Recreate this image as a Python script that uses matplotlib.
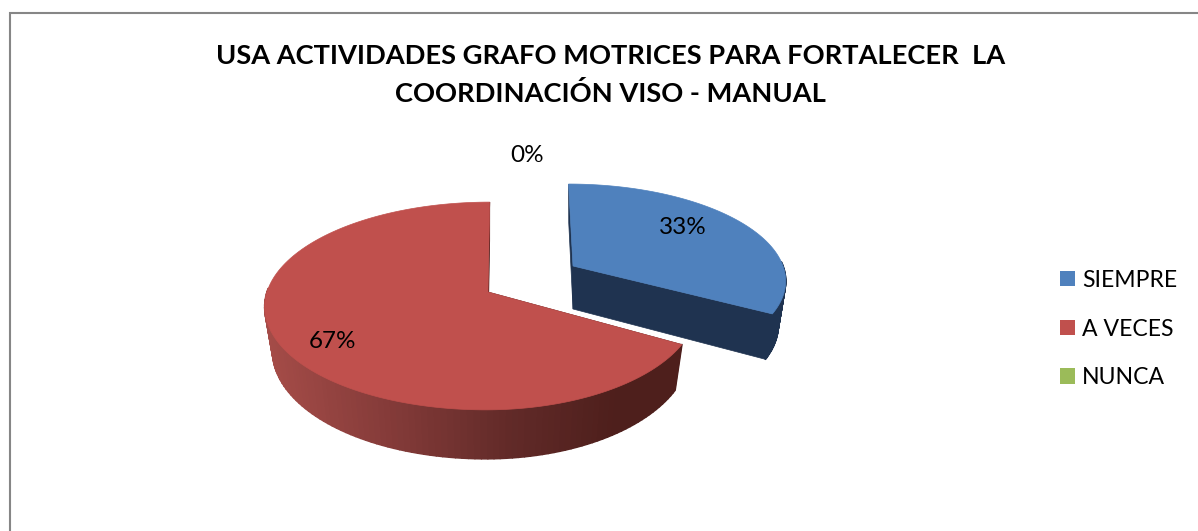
import numpy as np
import matplotlib
matplotlib.use("Agg")
import matplotlib.pyplot as plt
from matplotlib.collections import PolyCollection
from matplotlib.colors import LinearSegmentedColormap
from matplotlib.patches import Patch, Polygon, Rectangle

plt.rcParams['font.family'] = ['Lato', 'DejaVu Sans']

TITLE = "USA ACTIVIDADES GRAFO MOTRICES PARA FORTALECER  LA\nCOORDINACIÓN VISO - MANUAL"
categories = ["SIEMPRE", "A VECES", "NUNCA"]
values = [33, 67, 0]
colors = ["#4f81bd", "#c0504d", "#9bbb59"]

PERSP = 0.1346


def project(t, geo, bottom=False):
    # point on the rim of a slice, in pixels, with a bit of perspective
    t = np.radians(t)
    s = 1 / (1 + PERSP * np.sin(t))
    r = np.where(np.cos(t) < 0, geo["r_left"], geo["r_right"])
    dx = (r * np.cos(t) + geo["skew"] * np.sin(t)) * s
    dy = -geo["ry"] * np.sin(t) * s
    if bottom:
        return geo["x"] + dx * 0.965, geo["y"] + geo["depth"] + dy * 1.05
    return geo["x"] + dx, geo["y"] + dy


def draw_slice(ax, t1, t2, geo, top_color, cut_color, side_color):
    ts = np.linspace(t1, t2, 160)
    x_top, y_top = project(ts, geo)
    x_bot, y_bot = project(ts, geo, bottom=True)
    ax_b = (geo["x"], geo["y"] + geo["depth"])

    # the two cut faces
    for i in (0, -1):
        ax.add_patch(Polygon([(geo["x"], geo["y"]), (x_top[i], y_top[i]), (x_bot[i], y_bot[i]), ax_b],
                             closed=True, fc=cut_color, ec=cut_color, lw=0.5))

    # outer wall, in thin strips so it can carry a gradient
    # back of the rim is skipped, it would only peek out round the top face
    quads = []
    fills = []
    for i in range(len(ts) - 1):
        if np.sin(np.radians(ts[i])) > 0.05:
            continue
        quads.append([(x_top[i], y_top[i]), (x_top[i + 1], y_top[i + 1]),
                      (x_bot[i + 1], y_bot[i + 1]), (x_bot[i], y_bot[i])])
        fills.append(side_color((x_top[i] + x_top[i + 1]) / 2))
    ax.add_collection(PolyCollection(quads, facecolors=fills, edgecolors=fills, linewidths=1.2))

    pts = [(geo["x"], geo["y"])] + list(zip(x_top, y_top))
    ax.add_patch(Polygon(pts, closed=True, fc=top_color, ec=top_color, lw=0.5))


fig = plt.figure(figsize=(11.98, 5.31), dpi=100)
ax = fig.add_axes([0, 0, 1, 1])
ax.set_xlim(0, 1198)
ax.set_ylim(531, 0)
ax.axis("off")

# chart frame runs off the right and bottom of the image
ax.add_patch(Rectangle((10, 13), 1300, 600, fc="white", ec="#868686", lw=1.5))

ax.text(610.5, 75, TITLE, ha="center", va="center", fontsize=19.6, fontweight="bold",
        linespacing=1.59, color="black")

wall_cmap = LinearSegmentedColormap.from_list(
    "wall", [(0, "#a54c48"), (0.3, "#843b39"), (0.6, "#612a28"), (0.85, "#4e1f1c"), (1, "#4e1f1c")])

blue_geo = {"x": 573, "y": 266, "r_left": 214, "r_right": 210, "skew": -5, "ry": 93, "depth": 43}
red_geo = {"x": 488, "y": 292, "r_left": 221, "r_right": 208, "skew": 2, "ry": 102, "depth": 43}

# slices run clockwise from 12 o'clock
angles = 90 - np.cumsum([0] + values) * 3.6

draw_slice(ax, angles[0], angles[1], blue_geo, colors[0], "#1f3350", lambda x: "#1f3350")
draw_slice(ax, angles[2], angles[1], red_geo, colors[1], "#4e1f1c",
           lambda x: wall_cmap(np.clip((x - 265) / (680 - 265), 0, 1)))

label_x = [683, 333, 527]
label_y = [228, 342, 155]
for v, lx, ly in zip(values, label_x, label_y):
    ax.text(lx, ly, f"{v}%", ha="center", va="center", fontsize=17.5, color="black")

handles = [Patch(fc=c, ec="none", label=n) for c, n in zip(colors, categories)]
ax.legend(handles=handles, loc="center left", bbox_to_anchor=(1060, 329),
          bbox_transform=ax.transData, frameon=False, fontsize=16.6, borderpad=0, borderaxespad=0,
          handlelength=0.655, handleheight=0.655, handletextpad=0.3, labelspacing=1.2)

fig.savefig("out.png", dpi=100)
